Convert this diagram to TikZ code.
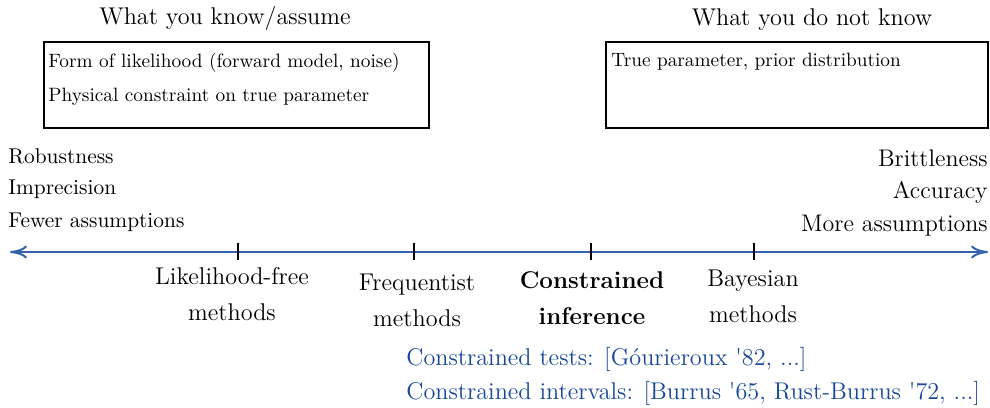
\documentclass[tikz,border=0pt]{standalone}
\usetikzlibrary{arrows.meta}
\definecolor{axisblue}{RGB}{52,98,170}
\definecolor{refblue}{RGB}{24,72,152}
\begin{document}
\begin{tikzpicture}[x=0.5pt,y=-0.5pt,
  every node/.style={inner sep=0pt, font=\fontsize{12.1}{14}\selectfont},
  title/.style={font=\fontsize{12.1}{14}\selectfont},
  boxtext/.style={font=\fontsize{9.65}{11}\selectfont, anchor=west},
  infobox/.style={draw, line width=0.7pt},
  leftside/.style={anchor=west, font=\fontsize{10.7}{13}\selectfont},
  rightside/.style={anchor=east, font=\fontsize{12}{14}\selectfont},
  method/.style={align=center, font=\fontsize{12.1}{18}\selectfont},
  tick/.style={line width=0.6pt},
  cite/.style={anchor=west, text=refblue, font=\fontsize{12.1}{14}\selectfont}]
\useasboundingbox (0,0) rectangle (990,407);

% what is known / unknown
\node[title] (tknow) at (225,18) {What you know/assume};
\draw[infobox] (44,42) rectangle (429,128);
\node[boxtext] (k1) at (48,63) {Form of likelihood (forward model, noise)};
\node[boxtext] (k2) at (48,97) {Physical constraint on true parameter};

\node[title] (tunk) at (812,20) {What you do not know};
\draw[infobox] (606,42) rectangle (988,128);
\node[boxtext] (u1) at (611,62) {True parameter, prior distribution};

% trade-offs at both ends
\node[leftside] (l1) at (8,156) {Robustness};
\node[leftside] (l2) at (8,189) {Imprecision};
\node[leftside] (l3) at (8,222) {Fewer assumptions};
\node[rightside] (r1) at (988,158) {Brittleness};
\node[rightside] (r2) at (988,192) {Accuracy};
\node[rightside] (r3) at (988,226) {More assumptions};

% axis
\coordinate (aL) at (10,252);
\coordinate (aR) at (988,252);
\draw[axisblue, line width=1pt, {To[length=8.5pt,width=6.5pt]}-{To[length=8.5pt,width=6.5pt]}] (aL) -- (aR);
\foreach \x/\n in {238/t1,414/t2,591/t3,754/t4}{
  \coordinate (\n) at (\x,252);
  \draw[tick] ([yshift=4.5pt]\n) -- ([yshift=-4pt]\n);
}

% methods
\node[method] (m1) at (232,294) {Likelihood-free\\methods};
\node[method] (m2) at (417,300.5) {Frequentist\\methods};
\node[method, font=\fontsize{12.1}{18}\selectfont\bfseries] (m3) at (592,298.5) {Constrained\\inference};
\node[method] (m4) at (753,296.5) {Bayesian\\methods};

% references
\node[cite] (c1) at (406,359) {Constrained tests: [G\'ourieroux \textquotesingle82, ...]};
\node[cite] (c2) at (406,393) {Constrained intervals: [Burrus \textquotesingle65, Rust-Burrus \textquotesingle72, ...]};
\end{tikzpicture}
\end{document}
